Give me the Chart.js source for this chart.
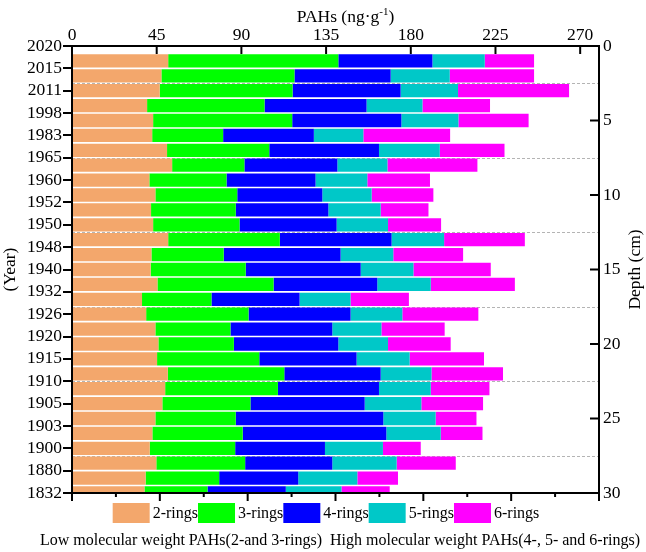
<!DOCTYPE html>
<html>
<head>
<meta charset="utf-8">
<script src="https://cdn.jsdelivr.net/npm/chart.js@4.4.1/dist/chart.umd.min.js"></script>
<style>
  html, body { margin: 0; padding: 0; background: #fff; }
  #wrap { width: 646px; height: 552px; position: relative; }
</style>
</head>
<body>
<div id="wrap"><canvas id="chart"></canvas></div>
<script>
// sample depths (cm), one bar per cm
const depths = [1, 2, 3, 4, 5, 6, 7, 8, 9, 10, 11, 12, 13, 14, 15,
  16, 17, 18, 19, 20, 21, 22, 23, 24, 25, 26, 27, 28, 29, 30];

// PAHs by ring number (ng/g)
const twoRings = [51.1, 47.5, 46.6, 39.9, 43.1, 42.6, 50.5, 53.2, 41.1, 44.3,
  42.0, 43.1, 51.1, 42.2, 41.8, 45.4, 37.2, 39.4, 44.3, 45.9,
  45.2, 50.9, 49.5, 48.0, 44.3, 42.7, 41.3, 44.8, 39.1, 38.5];
const threeRings = [90.4, 70.7, 70.6, 62.4, 73.9, 37.7, 54.3, 38.4, 41.0, 43.5,
  45.0, 45.9, 59.3, 38.4, 50.5, 61.7, 36.9, 54.4, 39.9, 40.1,
  54.3, 61.9, 59.9, 46.8, 42.7, 48.0, 45.4, 47.2, 39.1, 33.5];
const fourRings = [50.0, 51.1, 57.4, 54.2, 58.0, 48.2, 58.3, 49.4, 47.3, 45.2,
  49.2, 51.6, 59.4, 62.1, 61.1, 55.1, 46.8, 54.2, 54.1, 55.5,
  51.7, 51.2, 53.7, 60.7, 78.4, 76.3, 47.7, 46.3, 42.0, 41.6];
const fiveRings = [27.8, 31.4, 30.5, 29.7, 30.3, 26.3, 32.3, 26.6, 27.5, 26.2,
  27.8, 27.3, 27.9, 28.0, 28.0, 28.4, 27.1, 27.5, 26.1, 26.4,
  28.2, 27.0, 27.5, 30.1, 27.8, 28.9, 30.8, 34.2, 31.4, 29.6];
const sixRings = [26.2, 44.8, 59.0, 35.9, 37.3, 46.1, 34.4, 47.8, 33.3, 32.8,
  25.4, 28.2, 42.9, 37.1, 41.1, 44.7, 31.0, 40.4, 33.6, 33.3,
  39.5, 38.0, 31.2, 32.8, 21.7, 22.2, 20.1, 31.4, 21.6, 25.6];

const seriesNames = ['2-rings', '3-rings', '4-rings', '5-rings', '6-rings'];
const seriesColors = ['#F3A76C', '#00FF00', '#0000FF', '#00C8C8', '#FF00FF'];

// axes
const yearLabels = ['2020', '2015', '2011', '1998', '1983', '1965', '1960', '1952',
  '1950', '1948', '1940', '1932', '1926', '1920', '1915', '1910', '1905', '1903',
  '1900', '1880', '1832'];
const yearDepths = [0, 1.5, 3, 4.5, 6, 7.5, 9, 10.5, 12, 13.5, 15, 16.5, 18, 19.5,
  21, 22.5, 24, 25.5, 27, 28.5, 30];
const pahTicks = [0, 45, 90, 135, 180, 225, 270];
const depthTicks = [0, 5, 10, 15, 20, 25, 30];
const bottomTicks = [0, 1, 2, 3, 4, 5, 6, 7, 8, 9, 10, 11, 12];
const dividerDepths = [2.5, 7.5, 12.5, 17.5, 22.5, 27.5];

const caption = 'Low molecular weight PAHs(2-and 3-rings)  High molecular weight PAHs(4-, 5- and 6-rings)';

const FONT = "'Liberation Serif', 'Times New Roman', serif";
Chart.defaults.font.family = FONT;
Chart.defaults.font.size = 17.5;
Chart.defaults.color = '#000';

const seriesValues = [twoRings, threeRings, fourRings, fiveRings, sixRings];

const datasets = seriesNames.map((name, i) => ({
  label: name,
  data: seriesValues[i].map((v, j) => ({ x: v, y: depths[j] })),
  backgroundColor: seriesColors[i],
  borderWidth: 0,
  barPercentage: 0.89,
  categoryPercentage: 1,
  clip: 0,
}));

const setTicks = values => scale => {
  scale.ticks = values.map(v => ({ value: v }));
};

const border = { display: true, color: '#000', width: 2 };

const decorations = {
  id: 'decorations',
  beforeDatasetsDraw(chart) {
    const { ctx, chartArea, scales } = chart;
    ctx.save();
    ctx.strokeStyle = '#b4b4b4';
    ctx.lineWidth = 1;
    ctx.setLineDash([3, 2]);
    dividerDepths.forEach(d => {
      const y = Math.round(scales.y.getPixelForValue(d)) + 0.5;
      ctx.beginPath();
      ctx.moveTo(chartArea.left, y);
      ctx.lineTo(chartArea.right, y);
      ctx.stroke();
    });
    ctx.restore();
  },
  afterDraw(chart) {
    const { ctx, chartArea, scales } = chart;
    ctx.save();
    ctx.strokeStyle = '#000';
    ctx.lineWidth = 2;

    // frame
    ctx.strokeRect(chartArea.left, chartArea.top,
      chartArea.right - chartArea.left, chartArea.bottom - chartArea.top);

    // top axis: inward ticks
    scales.x.ticks.forEach(t => {
      const x = scales.x.getPixelForValue(t.value);
      ctx.beginPath();
      ctx.moveTo(x, chartArea.top);
      ctx.lineTo(x, chartArea.top + 8);
      ctx.stroke();
    });
    // bottom axis: outward, major / minor
    scales.x2.ticks.forEach((t, i) => {
      const x = scales.x2.getPixelForValue(t.value);
      ctx.beginPath();
      ctx.moveTo(x, chartArea.bottom);
      ctx.lineTo(x, chartArea.bottom + (i % 2 === 0 ? 8 : 4));
      ctx.stroke();
    });
    // right axis: inward ticks
    scales.y.ticks.forEach(t => {
      const y = scales.y.getPixelForValue(t.value);
      ctx.beginPath();
      ctx.moveTo(chartArea.right - 9, y);
      ctx.lineTo(chartArea.right, y);
      ctx.stroke();
    });

    // top title with superscript
    ctx.fillStyle = '#000';
    ctx.textBaseline = 'alphabetic';
    const main = 'PAHs (ng·g';
    ctx.font = '17.5px ' + FONT;
    const wMain = ctx.measureText(main).width;
    ctx.font = '11px ' + FONT;
    const wSup = ctx.measureText('-1').width;
    ctx.font = '17.5px ' + FONT;
    const wEnd = ctx.measureText(')').width;
    let tx = (chartArea.left + chartArea.right) / 2 + 10 - (wMain + wSup + wEnd) / 2;
    const ty = 22;
    ctx.textAlign = 'left';
    ctx.fillText(main, tx, ty);
    tx += wMain;
    ctx.font = '11px ' + FONT;
    ctx.fillText('-1', tx, ty - 7);
    tx += wSup;
    ctx.font = '17.5px ' + FONT;
    ctx.fillText(')', tx, ty);

    // right title, reading upward
    ctx.save();
    ctx.translate(635, (chartArea.top + chartArea.bottom) / 2);
    ctx.rotate(-Math.PI / 2);
    ctx.textAlign = 'center';
    ctx.textBaseline = 'middle';
    ctx.fillText('Depth (cm)', 0, 0);
    ctx.restore();

    // legend
    const boxW = 37, boxH = 20, gap = 3;
    ctx.font = '16px ' + FONT;
    const items = chart.data.datasets.map(ds => ({
      label: ds.label,
      color: ds.backgroundColor,
      w: boxW + gap + ctx.measureText(ds.label).width,
    }));
    const total = items.reduce((s, it) => s + it.w, 0);
    let lx = chart.width / 2 + 3 - total / 2;
    const ly = 503;
    ctx.textAlign = 'left';
    ctx.textBaseline = 'middle';
    items.forEach(it => {
      ctx.fillStyle = it.color;
      ctx.fillRect(lx, ly, boxW, boxH);
      ctx.fillStyle = '#000';
      ctx.fillText(it.label, lx + boxW + gap, ly + boxH / 2 + 1);
      lx += it.w;
    });

    // caption
    ctx.font = '16px ' + FONT;
    ctx.textAlign = 'center';
    ctx.textBaseline = 'alphabetic';
    ctx.fillText(caption, 340, 545);
    ctx.restore();
  },
};

new Chart(document.getElementById('chart'), {
  type: 'bar',
  data: { datasets },
  options: {
    indexAxis: 'y',
    responsive: true,
    maintainAspectRatio: false,
    animation: false,
    layout: { padding: 0 },
    plugins: {
      legend: { display: false },
      tooltip: { enabled: false },
    },
    scales: {
      x: {
        type: 'linear',
        position: 'top',
        stacked: true,
        offset: false,
        min: 0,
        max: 280,
        afterBuildTicks: setTicks(pahTicks),
        afterFit: s => { s.height = 46; },
        grid: { display: false, drawTicks: false },
        border,
        ticks: { padding: 0, autoSkip: false, maxRotation: 0 },
      },
      x2: {
        type: 'linear',
        position: 'bottom',
        offset: false,
        min: 0,
        max: 12,
        afterBuildTicks: setTicks(bottomTicks),
        afterFit: s => { s.height = 59; },
        grid: { display: false, drawTicks: false },
        border,
        ticks: { display: false },
      },
      y: {
        type: 'linear',
        position: 'right',
        stacked: true,
        offset: false,
        reverse: true,
        min: 0,
        max: 30,
        afterBuildTicks: setTicks(depthTicks),
        afterFit: s => { s.width = 47; },
        grid: { display: false, drawTicks: false, offset: false },
        border,
        ticks: { padding: 4, autoSkip: false },
      },
      yYear: {
        type: 'linear',
        position: 'left',
        offset: false,
        reverse: true,
        min: 0,
        max: 30,
        afterBuildTicks: setTicks(yearDepths),
        afterFit: s => { s.width = 72; },
        grid: {
          display: true,
          offset: false,
          drawOnChartArea: false,
          drawTicks: true,
          tickLength: 9,
          color: '#000',
          lineWidth: 2,
        },
        border,
        ticks: {
          padding: 1,
          autoSkip: false,
          callback: (value, index) => yearLabels[index],
        },
        title: {
          display: true,
          text: '(Year)',
          padding: { top: 0, bottom: 0 },
        },
      },
    },
  },
  plugins: [decorations],
});
</script>
</body>
</html>
